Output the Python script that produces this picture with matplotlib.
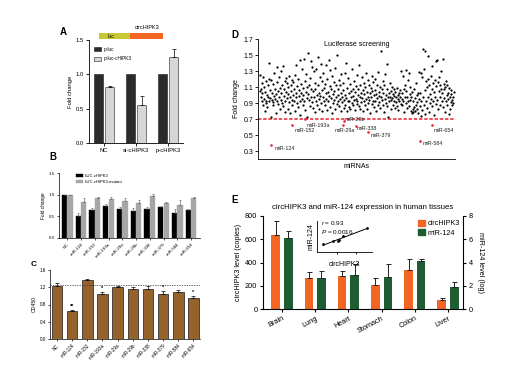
import numpy as np
import matplotlib
matplotlib.use('Agg')
import matplotlib.pyplot as plt
from matplotlib.patches import Rectangle, Patch

plt.rcParams['font.family'] = ['Liberation Sans', 'DejaVu Sans']
plt.rcParams['mathtext.fontset'] = 'custom'
plt.rcParams['mathtext.it'] = 'Liberation Sans:italic'

# ---------------- data ----------------
a_groups = ['NC', 'si-cHIPK3', 'p-cHIPK3']
a_pluc = [1.0, 1.0, 1.0]
a_pluc_c = [0.82, 0.55, 1.25]
a_pluc_c_err = [0.01, 0.14, 0.12]

b_groups = ['NC', 'miR-124', 'miR-152', 'miR-193a', 'miR-29a', 'miR-29b',
            'miR-338', 'miR-379', 'miR-584', 'miR-654']
b_wt = [1.0, 0.52, 0.66, 0.74, 0.68, 0.63, 0.67, 0.72, 0.57, 0.65]
b_wt_err = [0.0, 0.05, 0.03, 0.04, 0.04, 0.06, 0.04, 0.03, 0.10, 0.03]
b_mut = [1.0, 0.83, 0.92, 0.91, 0.86, 0.81, 0.97, 0.81, 0.76, 0.92]
b_mut_err = [0.0, 0.11, 0.04, 0.05, 0.07, 0.08, 0.05, 0.02, 0.13, 0.04]

c_od = [1.24, 0.66, 1.36, 1.05, 1.20, 1.17, 1.17, 1.05, 1.08, 0.96]
c_od_err = [0.05, 0.02, 0.04, 0.05, 0.03, 0.04, 0.06, 0.07, 0.06, 0.04]
c_stars = ['', '**', '', '*', '', '', '', '*', '', '*']
c_ref = 1.25

screen_fold = [
    1.05, 1.25, 0.98, 1.08, 1.15, 0.92, 1.02, 0.87, 1.22, 0.95, 1.10, 0.80, 1.04, 0.93, 1.18, 0.90, 1.00, 0.85, 1.12, 0.97,
    1.40, 0.92, 1.20, 0.96, 1.06, 0.72, 1.19, 0.94, 1.03, 0.88, 1.14, 0.91, 0.99, 1.28, 0.95, 1.08, 0.78, 1.01, 0.93, 1.16,
    1.35, 0.89, 1.05, 1.23, 0.97, 0.83, 1.09, 0.94, 1.30, 1.02, 0.90, 1.12, 0.86, 1.36, 0.99, 1.07, 0.79, 1.18, 0.93, 1.04,
    1.21, 0.96, 1.15, 0.82, 1.01, 1.10, 0.91, 1.24, 0.98, 0.77, 1.13, 1.05, 0.94, 1.19, 0.88, 1.00, 1.16, 0.93, 1.08, 0.80,
    1.25, 0.97, 1.03, 1.38, 0.90, 1.11, 0.85, 1.20, 0.99, 1.06, 1.44, 0.92, 0.75, 1.14, 1.02, 0.95, 1.32, 0.88, 1.09, 1.00,
    1.45, 0.93, 1.17, 0.81, 1.04, 1.26, 0.96, 1.10, 0.72, 1.01, 1.52, 0.94, 1.13, 0.86, 1.21, 0.98, 1.07, 1.42, 0.91, 1.35,
    1.05, 0.84, 1.30, 0.97, 1.15, 0.79, 1.08, 0.92, 1.33, 1.00, 0.88, 1.47, 1.12, 0.95, 1.03, 0.83, 1.22, 0.99, 1.39, 0.90,
    1.06, 1.18, 0.80, 0.97, 1.27, 0.93, 1.09, 0.87, 1.14, 1.02, 0.95, 1.37, 0.81, 1.20, 1.04, 0.92, 1.44, 0.99, 1.11, 0.85,
    1.31, 0.96, 1.07, 0.78, 1.24, 1.01, 0.90, 1.16, 0.94, 1.05, 1.34, 0.82, 1.13, 0.97, 1.50, 0.89, 1.08, 1.00, 0.93, 1.19,
    0.86, 1.12, 0.95, 1.03, 0.80, 1.26, 0.98, 0.91, 1.15, 1.06, 0.84, 0.94, 1.28, 1.00, 0.88, 1.40, 0.96, 0.80, 1.09, 0.92,
    1.21, 0.85, 1.02, 0.93, 1.14, 0.82, 1.05, 0.97, 1.32, 0.90, 1.08, 0.87, 0.99, 1.18, 0.94, 1.04, 0.81, 0.95, 1.11, 0.89,
    1.25, 0.92, 1.00, 1.07, 0.86, 1.37, 0.97, 1.13, 0.83, 1.02, 0.91, 1.22, 0.96, 1.06, 0.80, 1.15, 0.93, 1.01, 0.88, 1.10,
    1.27, 0.95, 1.04, 0.82, 1.19, 0.98, 0.90, 1.12, 0.94, 1.03, 0.78, 1.09, 0.97, 1.24, 0.89, 1.05, 0.92, 1.16, 0.85, 1.00,
    1.06, 0.93, 1.20, 0.80, 1.01, 0.96, 1.13, 0.87, 1.29, 0.99, 1.04, 0.91, 1.10, 0.84, 0.97, 1.55, 1.07, 0.94, 1.17, 0.88,
    1.02, 0.79, 1.12, 0.95, 1.26, 0.90, 1.00, 1.39, 0.86, 1.08, 0.97, 0.73, 1.03, 0.92, 1.15, 0.98, 0.83, 1.05, 0.94, 1.10,
    0.96, 1.01, 0.88, 1.07, 0.93, 0.99, 0.84, 1.04, 0.91, 0.97, 1.09, 0.86, 1.00, 0.95, 0.81, 1.03, 0.92, 0.98, 1.06, 0.89,
    1.30, 0.95, 1.02, 0.87, 1.24, 0.93, 1.08, 0.79, 1.13, 0.97, 1.31, 0.90, 1.05, 0.84, 0.98, 1.19, 0.92, 1.28, 0.86, 1.01,
    0.94, 1.10, 0.80, 0.97, 0.78, 1.04, 0.82, 0.93, 0.79, 1.07, 0.85, 0.96, 0.80, 1.15, 0.88, 1.00, 0.83, 0.91, 1.03, 0.77,
    1.29, 0.95, 0.86, 1.03, 0.74, 1.27, 0.92, 1.22, 0.81, 0.98, 1.57, 0.88, 1.32, 1.06, 0.76, 1.55, 0.93, 1.18, 0.84, 1.10,
    1.49, 0.97, 1.20, 0.79, 1.13, 1.01, 0.90, 1.24, 0.95, 1.36, 0.86, 1.08, 1.15, 0.92, 1.04, 0.75, 1.19, 0.98, 1.42, 0.89,
    1.11, 1.44, 0.94, 1.16, 0.83, 1.05, 1.23, 0.97, 1.12, 0.88, 1.08, 1.30, 0.93, 1.02, 1.45, 0.85, 1.14, 0.96, 1.07, 0.79,
    1.10, 0.92, 1.17, 1.00, 0.87, 1.13, 0.95, 1.03, 0.76, 1.09, 0.98, 0.82, 1.06, 0.91, 1.01, 0.94, 0.88, 0.97, 0.90, 1.04,
]
hit_names = ['miR-124', 'miR-152', 'miR-193a', 'miR-29a', 'miR-29b',
             'miR-338', 'miR-379', 'miR-584', 'miR-654']
hit_pos = [25, 74, 103, 188, 190, 217, 246, 362, 389]
hit_fold = [0.37, 0.62, 0.70, 0.63, 0.67, 0.61, 0.54, 0.43, 0.62]
screen_cut = 0.7

e_tissues = ['Brain', 'Lung', 'Heart', 'Stomach', 'Colon', 'Liver']
e_circ = [638, 271, 286, 209, 337, 80]
e_circ_err = [122, 47, 43, 60, 92, 20]
e_mir = [6.1, 2.67, 2.9, 2.8, 4.1, 1.95]
e_mir_err = [0.6, 0.65, 1.0, 1.1, 0.25, 0.4]
e_r, e_p = '0.93', '0.0016'

# ---------------- figure ----------------
W, H = 521, 380
fig = plt.figure(figsize=(W / 100, H / 100), dpi=100)


def ax_px(x0, y0, x1, y1):
    return fig.add_axes([x0 / W, 1 - y1 / H, (x1 - x0) / W, (y1 - y0) / H])


def prism(ax, lw=0.7, fs=4, tl=2):
    for s in ['top', 'right']:
        ax.spines[s].set_visible(False)
    for s in ['left', 'bottom']:
        ax.spines[s].set_linewidth(lw)
    ax.tick_params(width=lw, length=tl, labelsize=fs, pad=1.5)


def flabel(x, y, s, fs=7):
    fig.text(x / W, 1 - y / H, s, fontsize=fs, fontweight='bold', ha='center', va='center')


ekw = dict(elinewidth=0.5, capthick=0.5, ecolor='black')

# ---- Panel A ----
axA = ax_px(89, 40, 183, 143)
xa = np.arange(len(a_groups))
axA.bar(xa - 0.18, a_pluc, 0.28, color='#2b2b2b', edgecolor='#1a1a1a', lw=0.4, label='p-luc')
axA.bar(xa + 0.18, a_pluc_c, 0.28, color='#d6d6d6', edgecolor='#222222', lw=0.4,
        yerr=[np.zeros(len(xa)), a_pluc_c_err], capsize=1.5, error_kw=ekw, label='p-luc-cHIPK3')
axA.set_xlim(-0.47, 2.47)
axA.set_ylim(0, 1.5)
axA.set_yticks([0, 0.5, 1.0, 1.5])
axA.set_yticklabels(['0.0', '0.5', '1.0', '1.5'])
axA.set_xticks(xa)
axA.set_xticklabels(a_groups)
prism(axA, lw=0.6, fs=4.2)
axA.set_ylabel('Fold change', fontsize=4.2, labelpad=2)
axA.legend(loc='upper left', bbox_to_anchor=(0.03, 0.95), fontsize=3.4, frameon=False,
           handlelength=1.6, handleheight=0.9, labelspacing=0.9, borderaxespad=0, handletextpad=0.5)
fig.add_artist(Rectangle((99 / W, 1 - 39 / H), 31 / W, 6 / H, transform=fig.transFigure,
                         facecolor='#c8c832', edgecolor='none'))
fig.add_artist(Rectangle((130 / W, 1 - 39 / H), 33 / W, 6 / H, transform=fig.transFigure,
                         facecolor='#f26522', edgecolor='none'))
fig.text(111 / W, 1 - 36 / H, 'luc', fontsize=3.8, ha='center', va='center')
fig.text(147 / W, 1 - 27.5 / H, 'circHIPK3', fontsize=4.0, ha='center', va='center')
flabel(63, 32, 'A')

# ---- Panel B ----
axB = ax_px(59, 173.5, 200, 238)
xb = np.arange(len(b_groups))
axB.bar(xb - 0.2, b_wt, 0.38, color='black', edgecolor='black', lw=0.3,
        yerr=[np.zeros(len(xb)), b_wt_err], capsize=0.8, error_kw=dict(elinewidth=0.4, capthick=0.4, ecolor='#555555'),
        label='LUC-cHIPK3')
axB.bar(xb + 0.2, b_mut, 0.38, color='#a6a6a6', edgecolor='#a6a6a6', lw=0.3,
        yerr=[np.zeros(len(xb)), b_mut_err], capsize=0.8, error_kw=dict(elinewidth=0.4, capthick=0.4, ecolor='#555555'),
        label='LUC-cHIPK3-mutant')
axB.set_xlim(-0.6, 9.65)
axB.set_ylim(0, 1.5)
axB.set_yticks([0, 0.5, 1.0, 1.5])
axB.set_yticklabels(['0.0', '0.5', '1.0', '1.5'])
axB.set_xticks(xb)
axB.set_xticklabels(b_groups, rotation=45, ha='right', rotation_mode='anchor')
prism(axB, lw=0.5, fs=3.2, tl=1.5)
axB.set_ylabel('Fold change', fontsize=3.4, labelpad=2)
axB.legend(loc='upper left', bbox_to_anchor=(0.11, 1.02), fontsize=3.0, frameon=False,
           handlelength=1.6, handleheight=0.8, labelspacing=0.4, borderaxespad=0, handletextpad=0.4)
flabel(53, 157, 'B')

# ---- Panel C ----
axC = ax_px(50, 270, 200, 339)
xc = np.arange(len(b_groups))
axC.bar(xc, c_od, 0.7, color='#94622a', edgecolor='#1a1a1a', lw=0.5,
        yerr=[np.zeros(len(xc)), c_od_err], capsize=1.5, error_kw=ekw)
axC.axhline(c_ref, color='#333333', lw=0.5, ls=(0, (2, 1.5)))
for xi, v, e, s in zip(xc, c_od, c_od_err, c_stars):
    if s:
        axC.text(xi, v + e + 0.02, s, fontsize=4, ha='center', va='bottom', fontweight='bold')
axC.set_xlim(-0.46, 9.43)
axC.set_ylim(0, 1.6)
axC.set_yticks([0, 0.4, 0.8, 1.2, 1.6])
axC.set_yticklabels(['0.0', '0.4', '0.8', '1.2', '1.6'])
axC.set_xticks(xc)
axC.set_xticklabels(b_groups, rotation=45, ha='right', rotation_mode='anchor')
prism(axC, lw=0.5, fs=3.3, tl=1.5)
axC.set_ylabel('OD450', fontsize=3.6, labelpad=2)
flabel(34, 264, 'C', fs=6)

# ---- Panel D ----
axD = ax_px(258, 39, 455, 159)
xd = np.arange(len(screen_fold))
axD.scatter(xd, screen_fold, s=2.6, color='black', lw=0, zorder=3)
axD.scatter(hit_pos, hit_fold, s=3.5, color='#e8202a', lw=0, zorder=4)
axD.axhline(screen_cut, color='#e8202a', lw=1.1, ls=(0, (2.2, 1.2)), zorder=2)
label_off = {'miR-124': (2.5, -2), 'miR-152': (1.5, -4), 'miR-193a': (1, -5),
             'miR-29a': (-6, -4.5), 'miR-29b': (0.5, 1.5), 'miR-338': (0.8, -1.5),
             'miR-379': (1.5, -2.5), 'miR-584': (2, -2), 'miR-654': (1.5, -3.5)}
for n, xp, v in zip(hit_names, hit_pos, hit_fold):
    dx, dy = label_off[n]
    axD.annotate(n, (xp, v), xytext=(dx, dy), textcoords='offset points',
                 fontsize=3.9, ha='left', va='center', color='#222222')
axD.set_xlim(-4, len(screen_fold) + 2)
axD.set_ylim(0.2, 1.7)
axD.set_yticks(np.round(np.arange(0.3, 1.71, 0.2), 1))
axD.set_xticks([])
prism(axD, lw=0.6, fs=5, tl=2)
axD.set_ylabel('Fold change', fontsize=5, labelpad=2)
axD.set_xlabel('miRNAs', fontsize=5, labelpad=3)
axD.text(0.5, 0.985, 'Luciferase screening', transform=axD.transAxes, fontsize=5,
         ha='center', va='top')
flabel(235, 35, 'D')

# ---- Panel E ----
axE = ax_px(263, 216, 463, 309.3)
axE2 = axE.twinx()
xe = np.arange(len(e_tissues))
c_or, c_gr = '#f26522', '#1e5c31'
axE.bar(xe - 0.19, e_circ, 0.26, color=c_or, edgecolor='none',
        yerr=[np.zeros(len(xe)), e_circ_err], capsize=1.8, error_kw=dict(elinewidth=0.7, capthick=0.7, ecolor='#222222'))
axE2.bar(xe + 0.19, e_mir, 0.26, color=c_gr, edgecolor='none',
         yerr=[np.zeros(len(xe)), e_mir_err], capsize=1.8, error_kw=dict(elinewidth=0.7, capthick=0.7, ecolor='#222222'))
axE.set_xlim(-0.57, 5.45)
axE.set_ylim(0, 800)
axE2.set_ylim(0, 8)
axE.set_yticks([0, 200, 400, 600, 800])
axE2.set_yticks([0, 2, 4, 6, 8])
axE.set_xticks(xe)
axE.set_xticklabels(e_tissues, rotation=28, ha='right', rotation_mode='anchor')
for a in (axE, axE2):
    a.spines['top'].set_visible(False)
    for s in ['left', 'right', 'bottom']:
        a.spines[s].set_linewidth(0.8)
    a.tick_params(width=0.8, length=2.5, labelsize=5.3, pad=1.5)
axE.spines['right'].set_visible(False)
axE2.spines['left'].set_visible(False)
axE2.spines['bottom'].set_visible(False)
axE.set_ylabel('circHIPK3 level (copies)', fontsize=5.2, labelpad=2)
axE2.set_ylabel('miR-124 level (log)', fontsize=5.2, labelpad=3, rotation=270, va='bottom')
axE.set_title('circHIPK3 and miR-124 expression in human tissues', fontsize=5.6, pad=5)
axE2.legend(handles=[Patch(color=c_or, label='circHIPK3'), Patch(color=c_gr, label='miR-124')],
            loc='upper right', bbox_to_anchor=(1.0, 0.99), fontsize=5.2, frameon=False,
            handlelength=1.0, handleheight=0.9, labelspacing=0.25, borderaxespad=0, handletextpad=0.4)
flabel(235, 200, 'E')

# inset
axI = ax_px(317, 220.7, 372, 251.7)
axI.scatter(e_circ, e_mir, s=4, color='black', lw=0, zorder=3)
k, b0 = np.polyfit(e_circ, e_mir, 1)
xx = np.array([min(e_circ), max(e_circ)])
axI.plot(xx, k * xx + b0, color='black', lw=0.7)
axI.set_xlim(0, 700)
axI.set_ylim(0, 8)
axI.set_xticks([250, 500])
axI.set_xticklabels([])
axI.set_yticks([])
for s in ['top', 'right']:
    axI.spines[s].set_visible(False)
for s in ['left', 'bottom']:
    axI.spines[s].set_linewidth(0.6)
axI.tick_params(width=0.6, length=1.5)
axI.patch.set_alpha(0)
axI.set_xlabel('circHIPK3', fontsize=5, labelpad=1.5)
axI.set_ylabel('miR-124', fontsize=5, labelpad=1.5)
axI.text(0.08, 1.04, '$r$ = ' + e_r, transform=axI.transAxes, fontsize=4.6, ha='left', va='top')
axI.text(0.08, 0.75, '$P$ = ' + e_p, transform=axI.transAxes, fontsize=4.6, ha='left', va='top')

fig.savefig('out.png', dpi=100)
